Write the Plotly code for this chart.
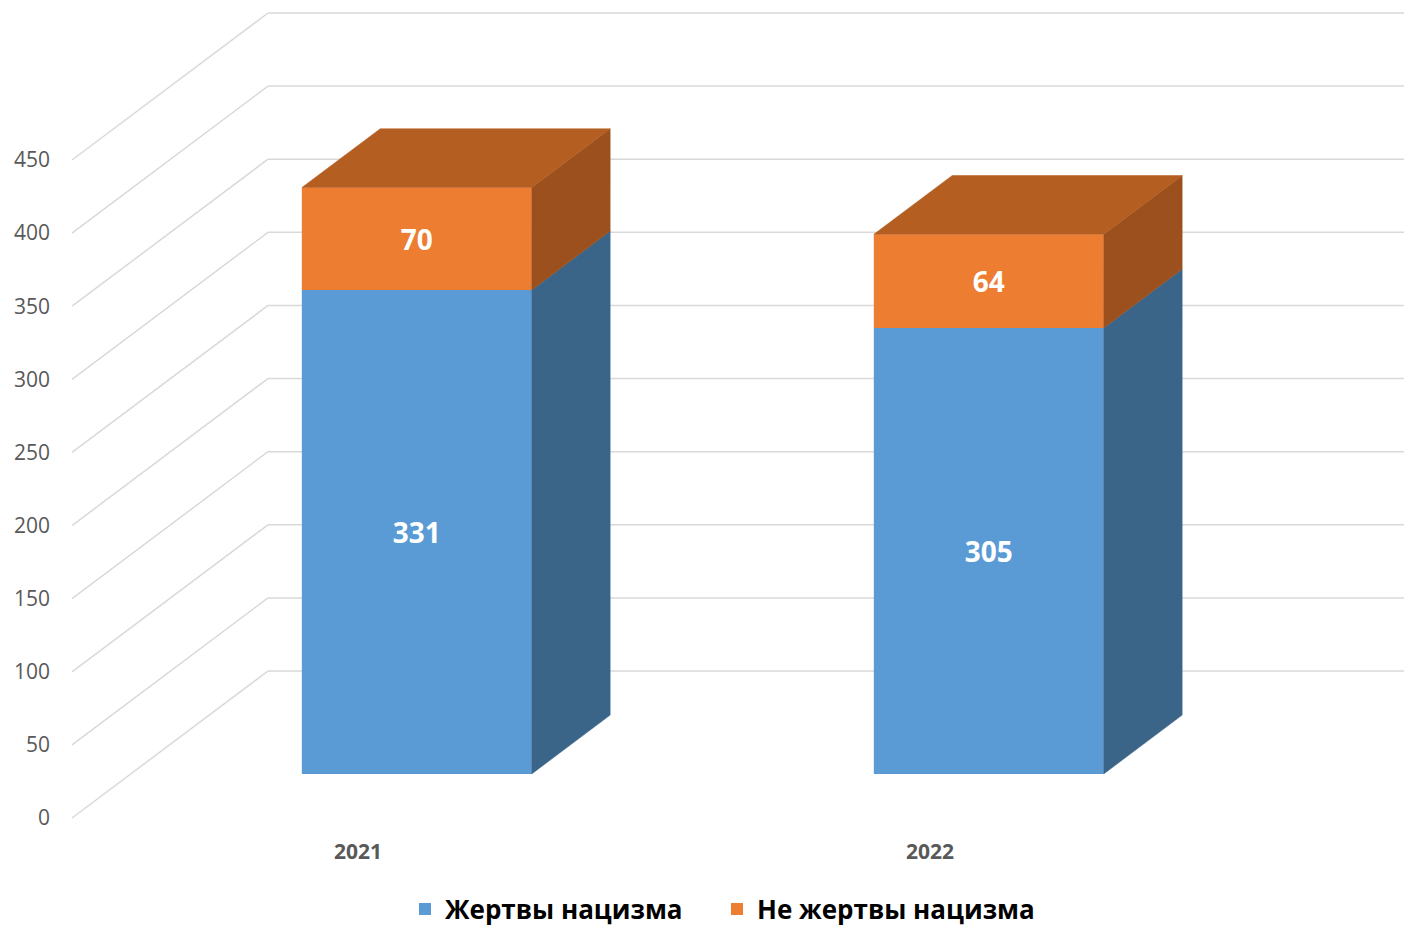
import plotly.graph_objects as go

# ---------------- data ----------------
categories = ["2021", "2022"]
victims = [331, 305]
non_victims = [70, 64]
series_names = ["Жертвы нацизма", "Не жертвы нацизма"]
y_ticks = [0, 50, 100, 150, 200, 250, 300, 350, 400, 450]

# ---------------- geometry / style ----------------
W, H = 1404, 927
ML, MB, MT, MR = 51, 90, 0, 0
PX_PER_UNIT = 658 / 450          # front-plane value scale
FRONT_ZERO_PX = 818              # pixel row of value 0 on the front plane
CAT_PX = 572                     # pixel width of one category
CAT0_PX = 358                    # pixel column of the first category centre
plot_h = H - MB - MT
y_range = [-(plot_h - FRONT_ZERO_PX) / PX_PER_UNIT, FRONT_ZERO_PX / PX_PER_UNIT]
x_range = [(ML - CAT0_PX) / CAT_PX, (W - MR - CAT0_PX) / CAT_PX]
DX = 196 / CAT_PX                # full depth, x units
DY = 147 / PX_PER_UNIT           # full depth, value units
D0, D1 = 0.30, 0.70              # bar front / back depth
HW = 0.201                       # bar half width

BLUE, BLUE_SIDE = "#5B9BD5", "#3A6589"
ORANGE, ORANGE_SIDE, ORANGE_TOP = "#ED7D31", "#9B501D", "#B55E22"
GRID = "#D9D9D9"
FONT = "Open Sans"
LEGEND_X_PX = [405, 717]
LEGEND_Y_PX = 909

idx = list(range(len(categories)))
fig = go.Figure()

# front faces as bars
fig.add_trace(go.Bar(
    x=[c + D0 * DX for c in idx], y=victims, base=[D0 * DY] * len(idx),
    width=2 * HW, marker=dict(color=BLUE, line=dict(width=0)),
    name=series_names[0], text=[str(v) for v in victims],
    textposition="inside", insidetextanchor="middle",
    textfont=dict(color="white", size=28, family=FONT, weight="bold"),
    hoverinfo="skip", legend="legend"))
fig.add_trace(go.Bar(
    x=[c + D0 * DX for c in idx], y=non_victims,
    base=[D0 * DY + v for v in victims],
    width=2 * HW, marker=dict(color=ORANGE, line=dict(width=0)),
    name=series_names[1], text=[str(v) for v in non_victims],
    textposition="inside", insidetextanchor="middle",
    textfont=dict(color="white", size=28, family=FONT, weight="bold"),
    hoverinfo="skip", legend="legend2"))


def poly(xs, ys, color):
    fig.add_trace(go.Scatter(
        x=xs + [xs[0]], y=ys + [ys[0]], mode="lines", fill="toself",
        fillcolor=color, line=dict(color=color, width=0.5),
        showlegend=False, hoverinfo="skip"))


for c in idx:
    segs = [(0, victims[c], BLUE_SIDE),
            (victims[c], victims[c] + non_victims[c], ORANGE_SIDE)]
    for v0, v1, col in segs:
        xr = c + HW
        poly([xr + D0 * DX, xr + D1 * DX, xr + D1 * DX, xr + D0 * DX],
             [v0 + D0 * DY, v0 + D1 * DY, v1 + D1 * DY, v1 + D0 * DY], col)
    vt = victims[c] + non_victims[c]
    poly([c - HW + D0 * DX, c + HW + D0 * DX, c + HW + D1 * DX, c - HW + D1 * DX],
         [vt + D0 * DY, vt + D0 * DY, vt + D1 * DY, vt + D1 * DY], ORANGE_TOP)

# gridlines: left wall diagonals + back wall horizontals
shapes = []
xl = -0.5
for v in y_ticks:
    shapes.append(dict(type="line", xref="x", yref="y", x0=xl, y0=v,
                       x1=xl + DX, y1=v + DY, layer="below",
                       line=dict(color=GRID, width=1.5)))
    shapes.append(dict(type="line", xref="x", yref="y", x0=xl + DX, y0=v + DY,
                       x1=x_range[1], y1=v + DY, layer="below",
                       line=dict(color=GRID, width=1.5)))

legend_common = dict(orientation="h", xref="container", xanchor="left",
                     yref="container", y=(H - LEGEND_Y_PX) / H, yanchor="middle",
                     font=dict(family=FONT, size=26, color="#000000", weight="bold"),
                     itemwidth=30, bgcolor="rgba(0,0,0,0)")

fig.update_layout(
    width=W, height=H,
    margin=dict(l=ML, r=MR, t=MT, b=MB),
    paper_bgcolor="white", plot_bgcolor="white",
    barmode="overlay",
    shapes=shapes,
    showlegend=True,
    legend=dict(x=LEGEND_X_PX[0] / W, **legend_common),
    legend2=dict(x=LEGEND_X_PX[1] / W, **legend_common),
    xaxis=dict(range=x_range, tickvals=idx, ticktext=categories,
               showgrid=False, zeroline=False, showline=False, ticks="",
               automargin=False,
               tickfont=dict(family=FONT, size=21, color="#595959", weight="bold")),
    yaxis=dict(range=y_range, tickvals=y_ticks, showgrid=False, zeroline=False,
               showline=False, ticks="", automargin=False,
               tickfont=dict(family=FONT, size=21, color="#595959")),
)

fig.write_html("out.html", config={"displayModeBar": False},
               post_script="document.body.style.margin='0';")
